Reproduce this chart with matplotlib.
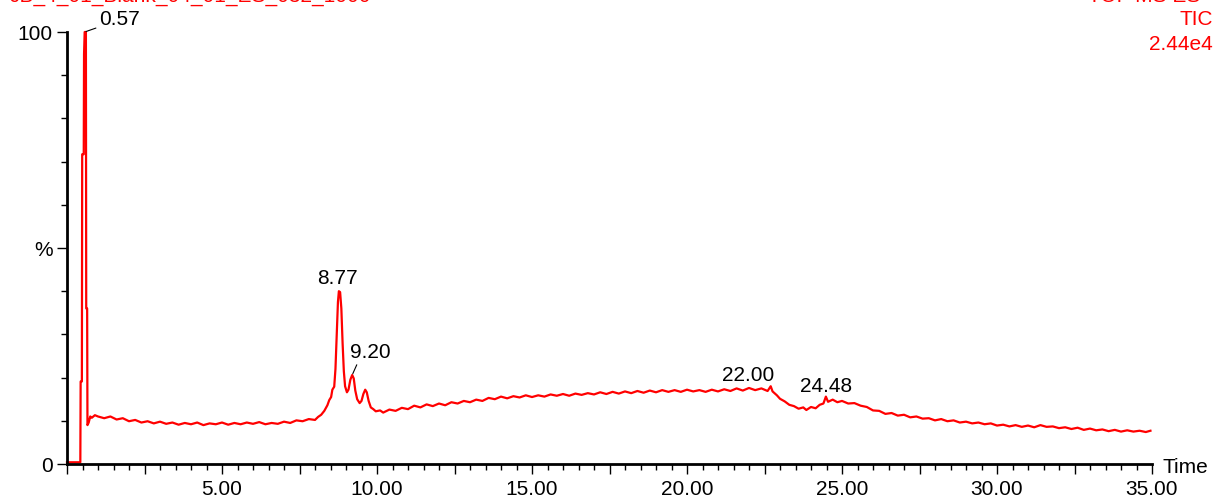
import matplotlib
matplotlib.use("Agg")
import matplotlib.pyplot as plt
from matplotlib.ticker import MultipleLocator, FixedLocator, FixedFormatter, FuncFormatter

plt.rcParams["font.family"] = ["Liberation Sans", "DejaVu Sans"]

# retention time (min) and relative TIC intensity (%)
rt = [0.00, 0.43, 0.44, 0.48, 0.49, 0.54, 0.55, 0.57, 0.61, 0.62, 0.65, 0.66,
      0.70, 0.75, 0.80, 0.90, 1.0, 1.2, 1.4, 1.6, 1.8, 2.0, 2.2, 2.4, 2.6, 2.8,
      3.0, 3.2, 3.4, 3.6, 3.8, 4.0, 4.2, 4.4, 4.6, 4.8, 5.0, 5.2, 5.4, 5.6, 5.8,
      6.0, 6.2, 6.4, 6.6, 6.8, 7.0, 7.2, 7.4, 7.6, 7.8, 8.0, 8.1, 8.2, 8.3, 8.4,
      8.46, 8.52, 8.56, 8.62, 8.66, 8.70, 8.74, 8.77, 8.81, 8.85, 8.89, 8.93,
      8.97, 9.03, 9.08, 9.14, 9.20, 9.25, 9.30, 9.36, 9.44, 9.50, 9.56, 9.62,
      9.67, 9.73, 9.80, 9.88, 9.96, 10.1, 10.2, 10.4, 10.6, 10.8, 11.0, 11.2,
      11.4, 11.6, 11.8, 12.0, 12.2, 12.4, 12.6, 12.8, 13.0, 13.2, 13.4, 13.6,
      13.8, 14.0, 14.2, 14.4, 14.6, 14.8, 15.0, 15.2, 15.4, 15.6, 15.8, 16.0,
      16.2, 16.4, 16.6, 16.8, 17.0, 17.2, 17.4, 17.6, 17.8, 18.0, 18.2, 18.4,
      18.6, 18.8, 19.0, 19.2, 19.4, 19.6, 19.8, 20.0, 20.2, 20.4, 20.6, 20.8,
      21.0, 21.2, 21.4, 21.6, 21.8, 22.0, 22.2, 22.4, 22.6, 22.7, 22.76, 22.9,
      23.0, 23.15, 23.3, 23.45, 23.6, 23.75, 23.85, 24.0, 24.15, 24.28, 24.4,
      24.48, 24.55, 24.7, 24.85, 25.0, 25.2, 25.4, 25.6, 25.8, 26.0, 26.2, 26.4,
      26.6, 26.8, 27.0, 27.2, 27.4, 27.6, 27.8, 28.0, 28.2, 28.4, 28.6, 28.8,
      29.0, 29.2, 29.4, 29.6, 29.8, 30.0, 30.2, 30.4, 30.6, 30.8, 31.0, 31.2,
      31.4, 31.6, 31.8, 32.0, 32.2, 32.4, 32.6, 32.8, 33.0, 33.2, 33.4, 33.6,
      33.8, 34.0, 34.2, 34.4, 34.6, 34.8, 34.95]
tic = [0.4, 0.4, 19.1, 19.1, 71.7, 71.7, 94.9, 100.0, 100.0, 36.0, 36.0, 9.0,
       9.6, 11.0, 10.7, 11.3, 11.0, 10.6, 11.0, 10.3, 10.6, 9.9, 10.2, 9.6, 9.9, 9.4,
       9.8, 9.3, 9.6, 9.1, 9.5, 9.2, 9.6, 9.0, 9.4, 9.2, 9.6, 9.1, 9.5, 9.2, 9.6,
       9.3, 9.7, 9.2, 9.5, 9.3, 9.8, 9.5, 10.1, 9.9, 10.4, 10.2, 10.9, 11.4, 12.3, 13.6,
       14.8, 15.5, 17.2, 17.9, 22.0, 30.0, 37.5, 40.0, 39.8, 36.0, 28.0, 21.5,
       18.0, 16.6, 17.2, 19.5, 20.6, 19.8, 17.0, 15.0, 14.1, 14.6, 16.2, 17.2,
       16.6, 14.6, 13.1, 12.7, 12.2, 12.4, 11.9, 12.6, 12.3, 13.0, 12.7, 13.5,
       13.1, 13.8, 13.4, 14.0, 13.6, 14.3, 14.0, 14.6, 14.3, 14.9, 14.6, 15.3,
       15.0, 15.6, 15.2, 15.7, 15.4, 15.9, 15.5, 15.9, 15.6, 16.1, 15.8, 16.2,
       15.8, 16.3, 16.0, 16.4, 16.1, 16.6, 16.2, 16.7, 16.3, 16.8, 16.4, 16.9,
       16.5, 17.0, 16.6, 17.1, 16.7, 17.1, 16.7, 17.2, 16.8, 17.1, 16.7, 17.2,
       16.8, 17.3, 16.9, 17.5, 17.0, 17.6, 17.1, 17.5, 16.9, 18.0, 16.8, 15.9,
       15.1, 14.5, 13.7, 13.4, 12.8, 13.1, 12.5, 13.2, 12.9, 13.7, 14.0,
       15.6, 14.4, 14.9, 14.3, 14.6, 14.0, 14.1, 13.5, 13.2, 12.4, 12.3, 11.6,
       11.8, 11.2, 11.4, 10.8, 11.0, 10.5, 10.6, 10.1, 10.4, 9.9, 10.1, 9.6,
       9.8, 9.4, 9.6, 9.2, 9.4, 8.9, 9.1, 8.7, 9.0, 8.6, 8.9, 8.5,
       9.0, 8.6, 8.7, 8.3, 8.5, 8.1, 8.4, 7.9, 8.2, 7.8, 8.0, 7.6,
       7.9, 7.5, 7.8, 7.5, 7.7, 7.4, 7.7]

peak_labels = ["0.57", "8.77", "9.20", "22.00", "24.48"]
peak_rt = [0.57, 8.77, 9.20, 22.00, 24.48]
peak_tic = [100.0, 40.0, 20.6, 17.6, 15.6]

y_tick_labels = ["0", "%", "100"]

FS = 15
fig = plt.figure(figsize=(12.15, 4.97), dpi=100)
ax = fig.add_axes([67 / 1215, 1 - 464 / 497, (1152 - 67) / 1215, (464 - 32) / 497])

ax.plot(rt, tic, color="#ff0000", linewidth=1.6, clip_on=False, zorder=3)
ax.set_xlim(0, 35)
ax.set_ylim(0, 100)

for s in ("top", "right"):
    ax.spines[s].set_visible(False)
for s in ("left", "bottom"):
    ax.spines[s].set_linewidth(2.0)
    ax.spines[s].set_zorder(4)


def xlab(v, pos):
    # only every 5 min is labelled, and not the origin
    if v < 1 or abs(v / 5 - round(v / 5)) > 1e-6:
        return ""
    return f"{v:.2f}"


ax.xaxis.set_major_locator(MultipleLocator(2.5))
ax.xaxis.set_major_formatter(FuncFormatter(xlab))
ax.xaxis.set_minor_locator(MultipleLocator(0.5))
ax.yaxis.set_major_locator(FixedLocator([0, 50, 100]))
ax.yaxis.set_major_formatter(FixedFormatter(y_tick_labels))
ax.yaxis.set_minor_locator(MultipleLocator(10))
ax.tick_params(axis="x", which="major", length=7.5, width=1, pad=4, labelsize=FS)
ax.tick_params(axis="x", which="minor", length=4, width=1)
ax.tick_params(axis="y", which="major", length=7, width=1, pad=3.5, labelsize=FS)
ax.tick_params(axis="y", which="minor", length=4, width=1)

ax.text(1.0101, -0.021, "Time", transform=ax.transAxes, fontsize=FS,
        ha="left", va="baseline")

# peak annotations
offsets = [(14, 7), (-1, 7), (18, 17), (-1, 7), (0, 5)]
for lab, x, y, off in zip(peak_labels, peak_rt, peak_tic, offsets):
    if lab in ("0.57", "9.20"):
        ax.annotate(lab, (x, y), xytext=off, textcoords="offset pixels",
                    fontsize=FS, ha="left" if lab == "0.57" else "center",
                    va="baseline",
                    arrowprops=dict(arrowstyle="-", color="black", lw=0.8,
                                    shrinkA=0, shrinkB=1,
                                    relpos=(0, 0.1) if lab == "0.57" else (0.2, 0)))
    else:
        ax.annotate(lab, (x, y), xytext=off, textcoords="offset pixels",
                    fontsize=FS, ha="center", va="baseline")

# header texts (partly clipped at the top edge, as in the original)
fig.text(10 / 1215, 1 - 1.5 / 497, "JB_4_01_Blank_04_01_ES_032_1000", color="#ff0000",
         fontsize=FS, ha="left", va="baseline")
fig.text(1213 / 1215, 1 - 2.5 / 497, "TOF MS ES+", color="#ff0000",
         fontsize=FS, ha="right", va="baseline")
fig.text(1213 / 1215, 1 - 25 / 497, "TIC", color="#ff0000",
         fontsize=FS, ha="right", va="baseline")
fig.text(1213 / 1215, 1 - 50 / 497, "2.44e4", color="#ff0000",
         fontsize=FS, ha="right", va="baseline")

fig.savefig("out.png", dpi=100, facecolor="white")
